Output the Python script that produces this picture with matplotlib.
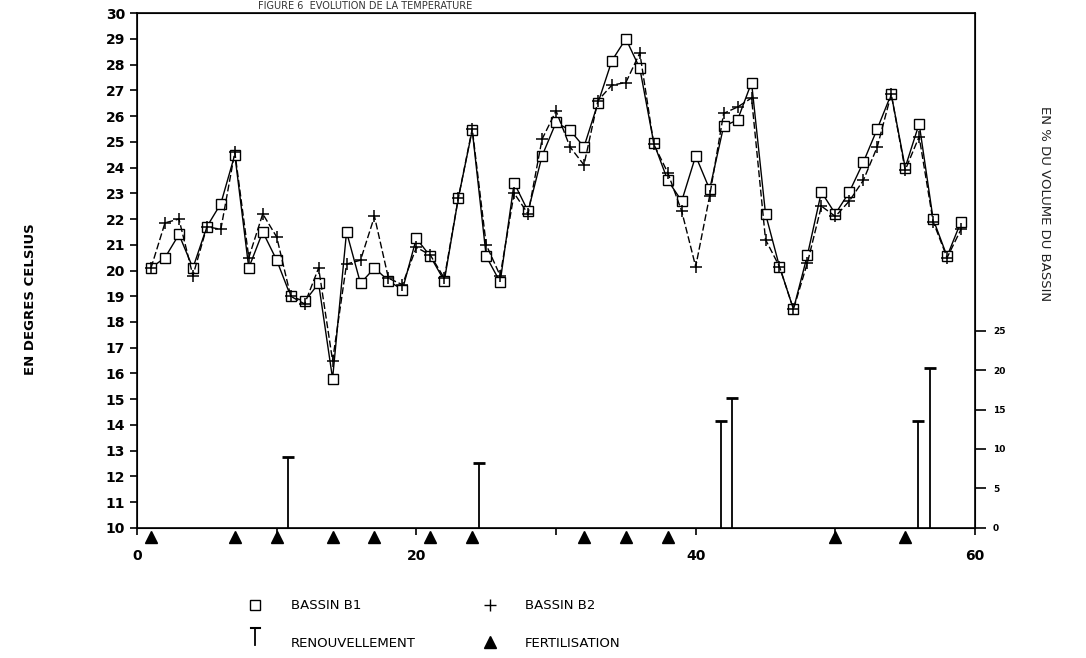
#!/usr/bin/env python3
"""
Figure 6 - evolution de la temperature, bassins B1 / B2.
Renouvellement (% du volume) en axe droit, fertilisations en triangles.
"""
import matplotlib
matplotlib.use('Agg')
import matplotlib.pyplot as plt
from matplotlib.lines import Line2D

# Temperature (degres C) par jour
days = list(range(1, 60))
temp_b1 = [20.1, 20.5, 21.4, 20.1, 21.7, 22.6, 24.5, 20.1, 21.5, 20.4,
           19.0, 18.8, 19.5, 15.8, 21.5, 19.5, 20.1, 19.6, 19.25, 21.25,
           20.55, 19.6, 22.8, 25.45, 20.55, 19.55, 23.4, 22.3, 24.45, 25.75,
           25.45, 24.8, 26.5, 28.15, 29.0, 27.85, 24.95, 23.5, 22.7, 24.45,
           23.15, 25.6, 25.85, 27.3, 22.2, 20.15, 18.5, 20.6, 23.05, 22.2,
           23.05, 24.2, 25.5, 26.85, 24.0, 25.7, 22.0, 20.55, 21.9]
temp_b2 = [20.1, 21.85, 22.0, 19.8, 21.7, 21.6, 24.6, 20.5, 22.2, 21.3,
           19.0, 18.7, 20.1, 16.5, 20.25, 20.4, 22.1, 19.7, 19.45, 20.9,
           20.6, 19.7, 22.8, 25.5, 21.0, 19.8, 23.0, 22.2, 25.1, 26.2,
           24.8, 24.1, 26.6, 27.2, 27.3, 28.45, 24.9, 23.8, 22.3, 20.15,
           22.9, 26.1, 26.35, 26.7, 21.2, 20.15, 18.5, 20.3, 22.5, 22.1,
           22.7, 23.5, 24.8, 26.85, 23.9, 25.2, 21.9, 20.5, 21.6]

# Renouvellement d'eau (% du volume du bassin)
renouv_days = [10.8, 24.5, 41.8, 42.6, 55.9, 56.8]
renouv_pct = [9.0, 8.2, 13.5, 16.4, 13.5, 20.3]

# Jours de fertilisation
fert_days = [1, 7, 10, 14, 17, 21, 24, 32, 35, 38, 50, 55]

fig = plt.figure(figsize=(10.86, 6.58), dpi=100)
ax = fig.add_axes([0.1262, 0.1976, 0.7716, 0.7826])

ax.plot(days, temp_b1, color='black', linewidth=1.0, marker='s', markersize=7,
        markerfacecolor='white', markeredgecolor='black', markeredgewidth=1.0, zorder=3)
ax.plot(days, temp_b2, color='black', linewidth=1.0, linestyle=(0, (5, 2)), marker='+',
        markersize=9, markeredgewidth=1.1, zorder=4)

ax.plot(fert_days, [9.65] * len(fert_days), linestyle='none', marker='^', markersize=9,
        color='black', clip_on=False, zorder=5)

ax.set_xlim(0, 60)
ax.set_ylim(10, 30)
ax.set_xticks(range(0, 61, 10))
ax.set_xticklabels(['0', '', '20', '', '40', '', '60'])
ax.set_yticks(range(10, 31))
ax.tick_params(axis='both', direction='out', length=5, width=1.2, labelsize=10)
ax.tick_params(axis='x', pad=10)
for lab in ax.get_yticklabels() + ax.get_xticklabels():
    lab.set_fontweight('bold')
for sp in ax.spines.values():
    sp.set_linewidth(1.2)

# Axe droit : renouvellement
ax2 = ax.twinx()
ax2.set_ylim(0, 65.2)
ax2.vlines(renouv_days, 0, renouv_pct, color='black', linewidth=1.3)
ax2.plot(renouv_days, renouv_pct, linestyle='none', marker='_', markersize=8,
         markeredgewidth=2, color='black')
ax2.set_yticks(range(0, 26, 5))
ax2.tick_params(axis='y', direction='out', length=8, width=1.2, labelsize=6.5, pad=5)
for lab in ax2.get_yticklabels():
    lab.set_fontweight('bold')

fig.text(0.028, 0.545, 'EN DEGRES CELSIUS', rotation=90, ha='center', va='center',
         fontsize=9.5, fontweight='bold')
fig.text(0.962, 0.69, 'EN % DU VOLUME DU BASSIN', rotation=270, ha='center', va='center',
         fontsize=9.5, color='#222222')
fig.text(0.238, 0.999, 'FIGURE 6  EVOLUTION DE LA TEMPERATURE', ha='left', va='top',
         fontsize=7, color='#333333')

# Legende
fig.add_artist(Line2D([0.235], [0.080], marker='s', markersize=7, markerfacecolor='white',
                      markeredgecolor='black', linestyle='none', transform=fig.transFigure))
fig.text(0.268, 0.080, 'BASSIN B1', ha='left', va='center', fontsize=9.5)
fig.add_artist(Line2D([0.451], [0.080], marker='+', markersize=8, markeredgewidth=1,
                      color='black', linestyle='none', transform=fig.transFigure))
fig.text(0.483, 0.080, 'BASSIN B2', ha='left', va='center', fontsize=9.5)
fig.add_artist(Line2D([0.235, 0.235], [0.020, 0.045], color='black', linewidth=1.3,
                      transform=fig.transFigure))
fig.add_artist(Line2D([0.231, 0.239], [0.045, 0.045], color='black', linewidth=1.5,
                      transform=fig.transFigure))
fig.text(0.268, 0.022, 'RENOUVELLEMENT', ha='left', va='center', fontsize=9.5)
fig.add_artist(Line2D([0.451], [0.024], marker='^', markersize=8, color='black',
                      linestyle='none', transform=fig.transFigure))
fig.text(0.483, 0.022, 'FERTILISATION', ha='left', va='center', fontsize=9.5)

fig.savefig('out.png', dpi=100)
print("Saved: out.png")
